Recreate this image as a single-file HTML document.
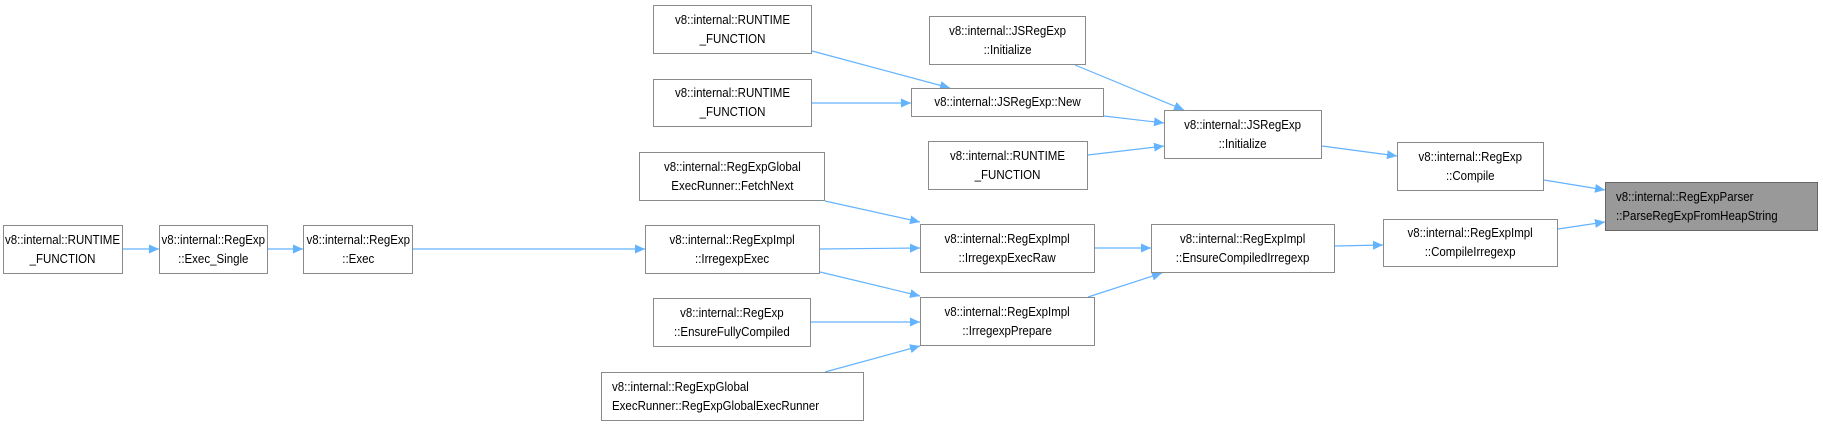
<!DOCTYPE html>
<html><head><meta charset="utf-8"><style>
body{margin:0;background:#fff;width:1823px;height:426px;overflow:hidden;position:relative;font-family:"Liberation Sans",sans-serif;}
.n{position:absolute;box-sizing:border-box;border:1px solid #8a8a8a;background:#fff;font-size:12.5px;line-height:19px;color:#000;text-align:center;display:flex;align-items:center;justify-content:center;white-space:nowrap}
.n span{display:inline-block;transform:scaleX(0.92);transform-origin:center}
.l{justify-content:flex-start;padding-left:10px}
.l span{text-align:left;transform-origin:left center}
svg{position:absolute;left:0;top:0}
</style></head><body>
<svg width="1823" height="426">
<defs><marker id="a" viewBox="0 0 10 10" refX="10" refY="5" markerWidth="10" markerHeight="10" markerUnits="userSpaceOnUse" orient="auto"><path d="M0,0.5 L10,5 L0,9.5 z" fill="#63b3ff"/></marker></defs>
<g stroke="#63b3ff" stroke-width="1.2" fill="none" marker-end="url(#a)">
<line x1="123" y1="249" x2="159" y2="249"/>
<line x1="268" y1="249" x2="303" y2="249"/>
<line x1="413" y1="249" x2="645" y2="249"/>
<line x1="825" y1="201" x2="920" y2="222"/>
<line x1="820" y1="249" x2="920" y2="248"/>
<line x1="820" y1="272" x2="920" y2="296"/>
<line x1="811" y1="322" x2="920" y2="322"/>
<line x1="825" y1="372" x2="920" y2="346"/>
<line x1="1095" y1="248" x2="1151" y2="248"/>
<line x1="1088" y1="297" x2="1162" y2="273"/>
<line x1="1335" y1="246" x2="1383" y2="245"/>
<line x1="1558" y1="229" x2="1605" y2="222"/>
<line x1="1544" y1="180" x2="1605" y2="190"/>
<line x1="1322" y1="146" x2="1397" y2="156"/>
<line x1="1075" y1="65" x2="1184" y2="110"/>
<line x1="1104" y1="116" x2="1164" y2="123"/>
<line x1="1088" y1="155" x2="1164" y2="146"/>
<line x1="812" y1="51" x2="950" y2="88"/>
<line x1="812" y1="103" x2="911" y2="103"/>
</g></svg>
<div class="n" style="left:3px;top:225px;width:120px;height:49px"><span>v8::internal::RUNTIME<br>_FUNCTION</span></div>
<div class="n" style="left:159px;top:225px;width:109px;height:49px"><span>v8::internal::RegExp<br>::Exec_Single</span></div>
<div class="n" style="left:303px;top:225px;width:110px;height:49px"><span>v8::internal::RegExp<br>::Exec</span></div>
<div class="n" style="left:653px;top:5px;width:159px;height:49px"><span>v8::internal::RUNTIME<br>_FUNCTION</span></div>
<div class="n" style="left:653px;top:79px;width:159px;height:48px"><span>v8::internal::RUNTIME<br>_FUNCTION</span></div>
<div class="n" style="left:639px;top:152px;width:186px;height:49px"><span>v8::internal::RegExpGlobal<br>ExecRunner::FetchNext</span></div>
<div class="n" style="left:645px;top:225px;width:175px;height:49px"><span>v8::internal::RegExpImpl<br>::IrregexpExec</span></div>
<div class="n" style="left:653px;top:298px;width:158px;height:49px"><span>v8::internal::RegExp<br>::EnsureFullyCompiled</span></div>
<div class="n l" style="left:601px;top:372px;width:263px;height:49px"><span>v8::internal::RegExpGlobal<br>ExecRunner::RegExpGlobalExecRunner</span></div>
<div class="n" style="left:929px;top:16px;width:157px;height:49px"><span>v8::internal::JSRegExp<br>::Initialize</span></div>
<div class="n" style="left:911px;top:88px;width:193px;height:29px"><span>v8::internal::JSRegExp::New</span></div>
<div class="n" style="left:928px;top:141px;width:160px;height:49px"><span>v8::internal::RUNTIME<br>_FUNCTION</span></div>
<div class="n" style="left:920px;top:224px;width:175px;height:49px"><span>v8::internal::RegExpImpl<br>::IrregexpExecRaw</span></div>
<div class="n" style="left:920px;top:297px;width:175px;height:49px"><span>v8::internal::RegExpImpl<br>::IrregexpPrepare</span></div>
<div class="n" style="left:1164px;top:110px;width:158px;height:49px"><span>v8::internal::JSRegExp<br>::Initialize</span></div>
<div class="n" style="left:1397px;top:142px;width:147px;height:49px"><span>v8::internal::RegExp<br>::Compile</span></div>
<div class="n" style="left:1151px;top:224px;width:184px;height:49px"><span>v8::internal::RegExpImpl<br>::EnsureCompiledIrregexp</span></div>
<div class="n" style="left:1383px;top:219px;width:175px;height:48px"><span>v8::internal::RegExpImpl<br>::CompileIrregexp</span></div>
<div class="n l" style="left:1605px;top:182px;width:213px;height:49px;background:#999;border-color:#666"><span>v8::internal::RegExpParser<br>::ParseRegExpFromHeapString</span></div>
</body></html>
